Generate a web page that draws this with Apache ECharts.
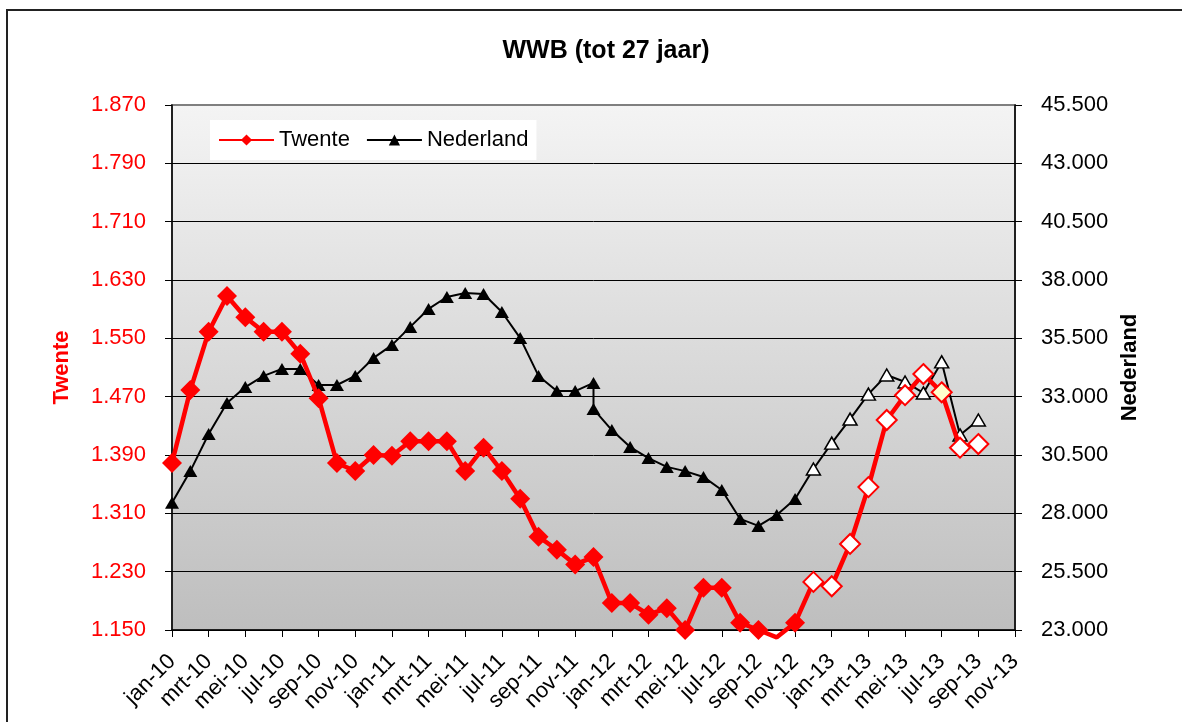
<!DOCTYPE html>
<html>
<head>
<meta charset="utf-8">
<title>WWB (tot 27 jaar)</title>
<script src="https://cdn.jsdelivr.net/npm/echarts@6/dist/echarts.min.js"></script>
<style>
  body { margin: 0; background: #fff; }
  #chart { width: 1182px; height: 722px; }
</style>
</head>
<body>
<div id="chart"></div>
<script>
// maanden op de x-as
const months = [
  'jan-10', 'feb-10', 'mrt-10', 'apr-10', 'mei-10', 'jun-10', 'jul-10', 'aug-10', 'sep-10', 'okt-10', 'nov-10', 'dec-10',
  'jan-11', 'feb-11', 'mrt-11', 'apr-11', 'mei-11', 'jun-11', 'jul-11', 'aug-11', 'sep-11', 'okt-11', 'nov-11', 'dec-11',
  'jan-12', 'feb-12', 'mrt-12', 'apr-12', 'mei-12', 'jun-12', 'jul-12', 'aug-12', 'sep-12', 'okt-12', 'nov-12', 'dec-12',
  'jan-13', 'feb-13', 'mrt-13', 'apr-13', 'mei-13', 'jun-13', 'jul-13', 'aug-13', 'sep-13', 'okt-13', 'nov-13'
]

// Twente, jan-10 t/m sep-13 (linker as)
const twente = [
  1379, 1479, 1559, 1608, 1579, 1559, 1559, 1529, 1468, 1379, 1368, 1390,
  1389, 1409, 1409, 1409, 1368, 1400, 1368, 1330, 1278, 1260, 1240, 1250,
  1187, 1187, 1171, 1180, 1150, 1208, 1208, 1160, 1150, 1140, 1160, 1216,
  1210, 1268, 1346, 1438, 1472, 1501, 1476, 1400, 1405
]

// Nederland (rechter as), dec-11 komt twee keer voor
const nederland = [
  ['jan-10', 28450], ['feb-10', 29810], ['mrt-10', 31400], ['apr-10', 32730], ['mei-10', 33410], ['jun-10', 33890],
  ['jul-10', 34190], ['aug-10', 34190], ['sep-10', 33500], ['okt-10', 33500], ['nov-10', 33890], ['dec-10', 34660],
  ['jan-11', 35210], ['feb-11', 35990], ['mrt-11', 36760], ['apr-11', 37270], ['mei-11', 37440], ['jun-11', 37400],
  ['jul-11', 36630], ['aug-11', 35510], ['sep-11', 33890], ['okt-11', 33240], ['nov-11', 33240], ['dec-11', 33590],
  ['dec-11', 32470], ['jan-12', 31570], ['feb-12', 30840], ['mrt-12', 30370], ['apr-12', 29990], ['mei-12', 29810],
  ['jun-12', 29560], ['jul-12', 29000], ['aug-12', 27760], ['sep-12', 27460], ['okt-12', 27930], ['nov-12', 28610],
  ['dec-12', 29900], ['jan-13', 31010], ['feb-13', 32040], ['mrt-13', 33110], ['apr-13', 33930], ['mei-13', 33630],
  ['jun-13', 33160], ['jul-13', 34490], ['aug-13', 31360], ['sep-13', 32000]
]

const leftAxis = { min: 1150, max: 1870, interval: 80 }
const rightAxis = { min: 23000, max: 45500, interval: 2500 }

const hollowFrom = months.indexOf('dec-12') // open markers vanaf hier
const yellowMonth = months.indexOf('jul-13')

const font = 'Liberation Sans, Arial, sans-serif'
const dutch = (v) => String(Math.round(v)).replace(/\B(?=(\d{3})+(?!\d))/g, '.')

const twenteData = twente.map((v, i) => {
  if (v < leftAxis.min) return { value: v, symbol: 'none' }
  if (i === yellowMonth) return { value: v, itemStyle: { color: '#ffffcc', borderColor: '#ff0000', borderWidth: 2 } }
  if (i >= hollowFrom) return { value: v, itemStyle: { color: '#ffffff', borderColor: '#ff0000', borderWidth: 2 } }
  return v
})

const nederlandData = nederland.map((p) => {
  if (months.indexOf(p[0]) >= hollowFrom) {
    return { value: p, itemStyle: { color: '#ffffff', borderColor: '#000000', borderWidth: 1.5 } }
  }
  return p
})

const chart = echarts.init(document.getElementById('chart'))
const option = {
  animation: false,
  textStyle: { fontFamily: font },
  title: {
    text: 'WWB (tot 27 jaar)',
    left: 601,
    textAlign: 'center',
    top: 34,
    textStyle: { fontFamily: font, fontSize: 25, fontWeight: 'bold', color: '#000' }
  },
  legend: {
    data: ['Twente', 'Nederland'],
    left: 210,
    top: 120,
    backgroundColor: '#ffffff',
    padding: [9, 8],
    itemWidth: 55,
    itemHeight: 14,
    itemGap: 16,
    textStyle: { fontFamily: font, fontSize: 22, color: '#000' }
  },
  grid: {
    left: 172,
    right: 167,
    top: 105,
    bottom: 92,
    show: true,
    borderColor: '#7f7f7f',
    borderWidth: 2,
    backgroundColor: {
      type: 'linear', x: 0, y: 0, x2: 0, y2: 1,
      colorStops: [{ offset: 0, color: '#f4f4f4' }, { offset: 1, color: '#bebebe' }]
    }
  },
  xAxis: {
    type: 'category',
    boundaryGap: false,
    data: months,
    axisLine: { lineStyle: { color: '#000', width: 1.5 } },
    axisTick: { interval: 1, length: 7, lineStyle: { color: '#000' } },
    axisLabel: { interval: 1, rotate: 45, margin: 28, fontSize: 22, color: '#000', fontFamily: font },
    splitLine: { show: false }
  },
  yAxis: [
    {
      type: 'value',
      position: 'left',
      min: leftAxis.min,
      max: leftAxis.max,
      interval: leftAxis.interval,
      name: 'Twente',
      nameLocation: 'middle',
      nameRotate: 90,
      nameGap: 99,
      nameTextStyle: { color: '#ff0000', fontWeight: 'bold', fontSize: 22, fontFamily: font },
      axisLine: { show: true, lineStyle: { color: '#000', width: 1.5 } },
      axisTick: { show: true, length: 7, lineStyle: { color: '#000' } },
      axisLabel: { color: '#ff0000', fontSize: 22, margin: 26, fontFamily: font, formatter: dutch },
      splitLine: { show: true, showMaxLine: false, lineStyle: { color: '#000', width: 1 } }
    },
    {
      type: 'value',
      position: 'right',
      min: rightAxis.min,
      max: rightAxis.max,
      interval: rightAxis.interval,
      name: 'Nederland',
      nameLocation: 'middle',
      nameRotate: 90,
      nameGap: 101,
      nameTextStyle: { color: '#000', fontWeight: 'bold', fontSize: 22, fontFamily: font },
      axisLine: { show: true, lineStyle: { color: '#000', width: 1.5 } },
      axisTick: { show: true, length: 7, lineStyle: { color: '#000' } },
      axisLabel: { color: '#000', fontSize: 22, margin: 26, fontFamily: font, formatter: dutch },
      splitLine: { show: false }
    }
  ],
  series: [
    {
      name: 'Twente',
      type: 'line',
      yAxisIndex: 0,
      clip: false,
      symbol: 'diamond',
      symbolSize: 20,
      showAllSymbol: true,
      lineStyle: { color: '#ff0000', width: 4.5 },
      itemStyle: { color: '#ff0000' },
      data: twenteData,
      z: 3
    },
    {
      name: 'Nederland',
      type: 'line',
      yAxisIndex: 1,
      symbol: 'triangle',
      symbolSize: [14, 12],
      showAllSymbol: true,
      lineStyle: { color: '#000', width: 2 },
      itemStyle: { color: '#000' },
      data: nederlandData,
      z: 2
    }
  ],
  graphic: [
    {
      type: 'rect',
      shape: { x: 7, y: 10, width: 1200, height: 760 },
      style: { fill: 'none', stroke: '#222', lineWidth: 2 },
      silent: true
    }
  ]
}
chart.setOption(option)
</script>
</body>
</html>
